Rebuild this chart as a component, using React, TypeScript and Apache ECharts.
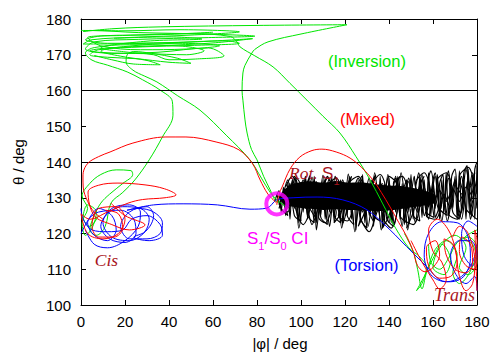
import React, { useEffect, useRef } from "react";
import * as echarts from "echarts";

// Trajectory points are stored flat: x0, y0, x1, y1, ...  (|phi| deg, theta deg)

// Rotation on S1: outline of the densely covered core of the band
const rotCore = [
  90,130, 92,132, 95,133.6, 99,134.3, 104,134.6, 110,134.2, 116,134.7, 122,134.2, 128,134.3, 134,133.8,
  140,133.4, 146,133.2, 152,132.6, 157,131.8, 161,130.8,
  161,128.6, 157,128, 152,127.5, 146,126.9, 140,126.4, 134,126.2, 128,126.4, 122,126.6, 116,126.8,
  110,126.6, 104,126.9, 99,127.2, 95,127.6, 92,128.4,
];

// Rotation on S1: individual looping paths along the band
const blackRot1 = [
  88,129, 90,132, 91,126, 92,133, 93,125, 94,134, 95,124, 96,135, 97,127, 98,134, 99,123, 100,133,
  101,126, 102,135.5, 103,124, 104,134, 105,127, 106,136, 107,123, 108,132, 109,125, 110,135, 111,124,
  112,133, 113,126, 114,136, 115,123.5, 116,134, 117,127, 118,135, 119,122.5, 120,133, 121,125, 122,136,
  123,124, 124,134, 125,121, 126,135, 127,126, 128,136.5, 129,123, 130,133, 131,125, 132,135, 133,122,
  134,134, 135,126, 136,136, 137,121.5, 138,134, 139,125, 140,135.5, 141,123, 142,133, 143,126, 144,136,
  145,124, 146,134, 147,122.5, 148,135, 149,126, 150,136.5, 151,124, 152,133, 153,127, 154,136, 155,124.5,
  156,135, 157,126, 158,137, 159,125, 160,134, 161,127, 162,136.5, 163,124, 164,135, 165,126, 166,137,
  167,125, 168,134, 169,127, 170,136, 171,124, 172,137.5, 173,126, 174,135, 175,124, 176,138, 177,126,
  178,136, 179,124, 180,139,
];
const blackRot2 = [
  180,131, 178,137, 176.5,129, 178,125, 175,127, 173,136, 171,128, 172,124, 169,126, 167,135.5, 165.5,129,
  166.5,125, 163,127, 161,136, 159.5,130, 160.5,124.5, 157,126, 155,135, 153,129, 154,123.5, 151,125,
  149,134.5, 147,130, 148,123, 145,125, 143,135.5, 141,129, 142,122, 139,124, 137,134, 135,131, 136,123.5,
  133,125, 131,135.5, 129,128, 130,121.5, 127,124, 125,134, 123,130, 124,122.5, 121,125, 119,135, 117,129,
  118,123, 115,125, 113,135.5, 111,129.5, 112,122.5, 109,124.5, 107,134.5, 105,130, 106,123, 103,125,
  101,135, 99,129, 100,123.5, 97,125, 95,134, 93,128, 94,125, 91,127, 89,131,
];
const blackRot3 = [
  90,127, 92,130, 94,127.5, 95,132, 97,136, 99,131, 98,126, 101,122.5, 104,127, 103,132, 106,134.5,
  109,129, 108,124.5, 111,123, 114,128, 112,133, 116,135.5, 119,130, 117,125, 121,123.5, 124,129, 122,134,
  126,136, 129,131, 127,125, 131,120.5, 134,127, 132,133, 136,136.5, 139,131, 137,125, 141,121.5, 144,128,
  142,134, 146,136, 149,130, 147,124, 151,122.5, 154,128, 152,134, 156,137, 159,131, 157,125, 161,124,
  164,129, 162,135, 166,137, 169,131, 167,125.5, 171,124, 174,130, 172,136, 176,138.5, 179,132, 177,126,
  180,124,
];
const blackRot4 = [
  179,137, 177,133, 175,138, 173,131, 170,133.5, 168,127, 165,131, 163,126, 160,132, 158,127.5, 156,133,
  153,126, 150,131, 148,126.5, 146,132.5, 143,127, 140,132, 138,126, 135,133, 132,127, 130,132, 128,126,
  125,133, 122,127.5, 120,132, 118,126, 115,133, 112,127, 110,132, 108,126.5, 105,133, 102,127, 100,131.5,
  98,126, 96,132, 94,127, 92,130.5, 90,128,
];
const blackRot5 = [
  95,129, 97,131.5, 99,128, 101,130.5, 103,127.5, 106,131, 108,128, 110,131.5, 113,128.5, 116,132, 118,128,
  121,131, 124,127.5, 127,131.5, 130,128, 133,132, 136,128, 139,131.5, 142,128.5, 145,132, 148,128, 151,131,
  154,127.5, 157,131.5, 160,128.5, 163,132, 166,129, 169,132.5, 172,129, 175,133, 178,130,
];
const blackRot6 = [
  150,130, 151.5,136, 152,133, 153.5,137, 155,131, 156,125, 157.5,128, 158,135.5, 159,137.5, 160.5,132,
  161,124.5, 162.5,127, 163,134, 164.5,136.5, 165,130, 166.5,123.5, 168,128, 168.5,136, 170,138, 171,131,
  172,125, 173.5,129, 174,137, 175.5,139, 176,132, 177,124, 178.5,130, 179,138, 180,140,
];
const blackRot7 = [
  92,131, 94,135, 95.5,131, 97,135.5, 98,129, 99,121.5, 100.5,127, 102,136, 103,131, 105,135.8, 106.5,126,
  107,121, 108.5,129, 110,136.3, 111.5,130, 113,122, 114,127, 115.5,136, 117,132, 118.5,121.5, 120,128,
  121.5,136.6, 123,129, 124.5,120.5, 126,127, 127.5,136, 129,131, 130.5,122, 132,128, 133.5,137, 135,130,
  136.5,121, 138,128, 139.5,136.5, 141,130, 142.5,122.5, 144,128, 145.5,137, 147,131, 148.5,121, 150,127,
];
const blackRot8 = [
  180,127, 178.5,133, 177,129, 176,135.5, 174.5,130, 173,124, 171.5,128, 170,135, 168.5,132, 167,137.5,
  165.5,131, 164,123.5, 162.5,129, 161,137, 159.5,133, 158,124, 156.5,129, 155,136.5, 153.5,131, 152,123,
  150.5,128, 149,135.5, 147.5,132, 146,122, 144.5,128, 143,136, 141.5,131, 140,123, 138.5,127,
];
const blackRot9 = [
  93,133, 96,136, 98,134, 96.5,131, 99,129, 102,133, 104,136.2, 103,133, 101,130.5, 104,127, 107,124,
  106,126.5, 109,132, 112,135.8, 110,133.5, 113,130, 116,126, 115,123, 118,125.5, 121,132, 123,136,
  121.5,134, 125,131, 127,124.5, 126,122, 129,126, 132,133, 134,136.4, 132.5,134.5, 136,130, 138,124,
  137,121.5, 140,125, 143,133, 145,136, 143.5,134, 147,129, 149,123.5, 148,121.5, 151,126, 154,133.5,
  156,136, 154.5,134, 158,128,
];
const blackRot10 = [
  148,135, 145,131, 143,134.5, 140,136, 138,131, 135,127, 133,123.5, 131,126, 128,132, 126,135.5,
  124,132.5, 121,127, 119,123, 117,126.5, 114,133, 112,136, 110,131.5, 107,125.5, 105,122.5, 103,127,
  100,133.5, 98,135.5, 96,130, 94,126, 92,128.5,
];

// Inversion trajectories (green)
const greenInv1 = [
  8,125, 4,122, 1,124.5, 3,128, 7,126, 5,121.5, 2,119.5, 0.5,123, 3,127, 0.5,130.5, 4,134, 9,136.5,
  16,137.8, 22.7,137.6, 23.5,136.5, 19,134, 13,131, 9,128.5, 6,125, 4,121, 7,119.5, 11,122, 13.6,128.5,
  19,131.5, 24.5,135, 31,140.6, 37,147, 41.8,153.1, 41.5,157, 36,160.1, 28,163, 21,165.2, 12,167.1,
  5,168.5, 2,170.5, 6,172, 22,172.8, 46,172.4, 56,171.1, 48,170, 30,170.3, 10,170.6, 2,171.6, 6,173.6,
  26,174.3, 58,174.8, 79,175.2, 56,175.8, 26,176.2, 4,176.8, 1,176.5, 15,177.3, 36,177.8, 80,178.2,
  120.9,178.4, 100,175.8, 85,173.6, 79,171.5, 77.7,170.5, 74.5,167, 73.6,164.9, 73.2,160, 73.6,157.3,
  74.5,152, 75.5,148.1, 77.5,143.5, 80,140.6, 83,136, 86,132.2, 88,129.5, 90,128.5,
];
const greenInv2 = [
  60,176.3, 35,175.6, 10,175.3, 2,174.2, 12,173.2, 40,173.4, 66,173.9, 72,173.2, 50,172.6, 28,172.2,
  8,171.4, 4,170, 12,169.3, 25,168.9, 40,167.9, 50,167.6, 44,169, 32,170.4, 24,170.9, 21,170, 20.5,168,
  23.6,165.7, 29,164, 34.5,162.4, 44,158.5, 54.1,154.5, 66,147.5, 76.8,140.6, 82,135.5, 86,131.5,
  89,129.5, 93,127.5,
];
const greenInv3 = [
  6,169.8, 14,168.6, 24,167.4, 36,167.2, 30,168.4, 18,169.6, 9,171, 20,172.3, 45,173.2, 63,172.5,
  48,171.6, 27,171.4, 9,172.5, 3,174.8, 20,175.4, 50,175.9, 68,175.1, 70.9,173.6, 72.3,172.2, 79,169.7,
  87.3,166.6, 95,162, 102.7,157.3, 110,152.8, 117.7,148.1, 125,141.5, 131.4,135, 137,128.5, 143,121.5,
  149,116, 154.1,113.4, 157,110.5, 155,106, 152.5,104, 156,108, 160,113, 164,117, 168,112.5, 165,108.5,
  160,110.5, 163,116, 170,119.5, 175,116, 172,110.5, 176,108.5, 180,112, 178,117, 174,118.5, 180,121,
];
const greenTop = [
  0,176.8, 20,176.7, 45,177, 72,176.4, 50,175.5, 25,174.9, 5,174.2, 1,173, 22,173.1, 52,173.6, 78,174.5,
  60,173.3, 35,172.5, 12,171.9, 4,171.1, 14,170.4, 35,170.7, 58,171.9, 65,169.7, 52,168.8, 40,168.6,
  33,170, 20,170.8, 9,171.9, 30,173.8, 55,174.4, 40,175, 15,174.6,
];
const greenTrans = [
  147,120, 151,115, 153,110, 155,104.5, 157,109, 161,115.5, 166,118, 171,114, 169,109, 172,106, 177,109.5,
  180,116, 176,119, 171,117.5, 167,113, 163,110, 159,112, 158,117,
];

// Mixed trajectories (red)
const redMix1 = [
  10,124, 6,126, 3,129, 1,133, 0.9,135.8, 1,137, 3.2,139.7, 8,141.5, 13.2,142.8, 23.6,145.3, 38.6,147,
  47.7,147, 61.4,145.6, 71.8,143.4, 78,139.5, 81.4,135, 85,131, 89,128.5,
];
const redMix2 = [
  13.6,128.5, 20,125, 29.1,122.4, 22,121, 14,122.5, 6,125, 3.2,131.6, 8,133.5, 16.8,134.1, 29.1,133.6,
  38,132.5, 43.2,130.8, 38.2,130, 28,129.5, 21.4,128.5, 12,126, 4,124, 0,125.5, 3,120, 10,118.5, 17,120,
  20,124, 16,127.5, 8,127, 5,122, 8,119, 15,119, 19,121.5, 17,125.5, 11,126.5,
];
const redMix3 = [
  89,128, 90,131, 91.4,133, 95,138, 99.5,141.4, 105,143.2, 109.5,143.6, 116,142.8, 122.3,141.1,
  127.5,138.5, 132.7,135, 136.5,131.5, 140.5,127.4, 144.5,123, 148.2,119, 151,115, 153,111, 156.4,109.3,
  160,110.5, 163,114, 161,118, 157,116, 158,111, 163,107.5, 168,108, 171,112, 169,117, 165,118.5, 166,114,
  170,110, 175,109, 178,112, 177,117, 173,119, 172,115, 175,111, 179,110, 180,114, 180,118, 179,121,
  180,104,
];
const redTrans = [
  150,118, 155,112, 160,107, 163,104.5, 166,107, 164,112, 160,115, 158,121, 162,124, 167,121, 170,116,
  172,108, 175,104, 178,106, 179,112, 176,120, 172,122, 169,119,
];

// Torsion trajectories (blue)
const blueTor1 = [
  2,121, 6,117, 12,116, 20,118, 26,122, 27,126, 22,128, 14,127, 10,123, 14,119, 22,118, 30,121, 33,125,
  30,127.5, 22,126, 18,122, 22,118.5, 30,118.5, 36,120, 37,123, 33,126, 26,127, 20.9,126.5, 33,128,
  46.4,128.3, 62,128, 76.8,126.8, 84.5,127.1, 89,129.4, 96.4,130, 107.3,130.2, 119,129.4, 130,126.6,
  140.5,121, 145,118.2, 151,114.5, 157.3,110.6, 163.2,107, 168,106.5, 174,108, 177,113, 176,119, 171,123,
  164,123.3, 158,120, 156,114, 159,108.5, 166,106.5, 173,108, 178,112, 180,117,
];
const blueCis = [
  0,120, 4,124.5, 8,127, 14,125, 16,121, 12,118, 6,119.5, 3,123, 8,126, 18,126.5, 24,124, 25,120, 20,117.5,
  13,118.5, 9,122, 12,125.5, 19,127.5, 27,127, 31,124, 29,120.5, 24,119, 31,118, 37,119.5, 36,122.5,
  30,125, 23,124, 19,121, 12,120.5, 5,121, 1,124, 0,127,
];
const blueTrans = [
  180,122, 176,123.5, 173,120, 174,114, 178,111, 180,114, 177,118, 172,118, 168,114, 170,109, 175,106,
  179,108, 180,104,
];

// S1/S0 conical intersection
const ciPoint = [89, 128.3];
// Region boundaries
const boundaries = [140, 160];

const GREEN = "#00e600";
const RED = "#ff0000";
const BLUE = "#0000ff";
const MAGENTA = "#ff00ff";
const DARK_RED = "#a8141c";
const SANS = '"Liberation Sans", Arial, sans-serif';
const SERIF = '"Liberation Serif", "Times New Roman", serif';

const pairs = (flat: number[]) => {
  const out: number[][] = [];
  for (let i = 0; i + 1 < flat.length; i += 2) out.push([flat[i], flat[i + 1]]);
  return out;
};

const traj = (flat: number[], color: string, smooth: number, z: number, width = 1) => ({
  type: "line",
  data: pairs(flat),
  showSymbol: false,
  symbol: "none",
  smooth,
  silent: true,
  z,
  lineStyle: { color, width },
  itemStyle: { color },
});

const corePts = pairs(rotCore);

const xAxisBase = {
  type: "value",
  min: 0,
  max: 180,
  interval: 20,
  splitLine: { show: false },
  axisLine: { show: true, onZero: false, lineStyle: { color: "#000", width: 1 } },
  axisTick: { show: true, inside: true, length: 5, lineStyle: { color: "#000" } },
};
const yAxisBase = {
  type: "value",
  min: 100,
  max: 180,
  interval: 10,
  splitLine: { show: false },
  axisLine: { show: true, onZero: false, lineStyle: { color: "#000", width: 1 } },
  axisTick: { show: true, inside: true, length: 5, lineStyle: { color: "#000" } },
};

const blackPaths = [
  blackRot1, blackRot2, blackRot3, blackRot4, blackRot5,
  blackRot6, blackRot7, blackRot8, blackRot9, blackRot10,
];

const option = {
  animation: false,
  backgroundColor: "#fff",
  grid: { left: 81, right: 16, top: 19, bottom: 47 },
  xAxis: [
    {
      ...xAxisBase,
      position: "bottom",
      axisLabel: { color: "#000", fontSize: 15, fontFamily: SANS, margin: 9 },
    },
    { ...xAxisBase, position: "top", axisLabel: { show: false } },
  ],
  yAxis: [
    {
      ...yAxisBase,
      position: "left",
      name: "θ / deg",
      nameLocation: "middle",
      nameRotate: 90,
      nameGap: 55,
      nameTextStyle: { color: "#000", fontSize: 15, fontFamily: SANS },
      axisLabel: { color: "#000", fontSize: 15, fontFamily: SANS, margin: 10 },
    },
    { ...yAxisBase, position: "right", axisLabel: { show: false } },
  ],
  series: [
    {
      type: "custom",
      coordinateSystem: "cartesian2d",
      data: [corePts[0]],
      silent: true,
      clip: true,
      z: 1,
      renderItem: (_params: any, api: any) => ({
        type: "polygon",
        shape: { points: corePts.map((p) => api.coord(p)), smooth: 0.2 },
        style: { fill: "#000" },
      }),
      markLine: {
        silent: true,
        symbol: "none",
        label: { show: false },
        lineStyle: { color: "#000", type: "solid", width: 1 },
        data: boundaries.map((v) => ({ yAxis: v })),
      },
    },
    ...blackPaths.map((p) => traj(p, "#000", 0.3, 2, 1.15)),
    traj(greenTop, GREEN, 0.35, 3),
    traj(greenInv1, GREEN, 0.35, 3),
    traj(greenInv2, GREEN, 0.35, 3),
    traj(greenInv3, GREEN, 0.35, 3),
    traj(greenTrans, GREEN, 0.35, 3),
    traj(blueCis, BLUE, 0.35, 4),
    traj(blueTor1, BLUE, 0.35, 4),
    traj(blueTrans, BLUE, 0.35, 4),
    traj(redMix1, RED, 0.35, 5),
    traj(redMix2, RED, 0.35, 5),
    traj(redMix3, RED, 0.35, 5),
    traj(redTrans, RED, 0.35, 5),
    {
      type: "scatter",
      data: [ciPoint],
      symbol: "circle",
      symbolSize: 21,
      silent: true,
      z: 10,
      itemStyle: { color: "rgba(0,0,0,0)", borderColor: MAGENTA, borderWidth: 4 },
    },
  ],
  graphic: [
    {
      type: "text",
      x: 367,
      y: 61,
      style: { text: "(Inversion)", fill: GREEN, font: `16.5px ${SANS}`, textAlign: "center", textVerticalAlign: "middle" },
    },
    {
      type: "text",
      x: 367.5,
      y: 119,
      style: { text: "(Mixed)", fill: RED, font: `16.5px ${SANS}`, textAlign: "center", textVerticalAlign: "middle" },
    },
    {
      type: "text",
      x: 366.5,
      y: 265,
      style: { text: "(Torsion)", fill: BLUE, font: `16.5px ${SANS}`, textAlign: "center", textVerticalAlign: "middle" },
    },
    {
      type: "text",
      x: 106.5,
      y: 260,
      style: { text: "Cis", fill: DARK_RED, font: `italic 17.5px ${SERIF}`, textAlign: "center", textVerticalAlign: "middle" },
    },
    {
      type: "text",
      x: 454.5,
      y: 295,
      style: { text: "Trans", fill: DARK_RED, font: `italic 18px ${SERIF}`, textAlign: "center", textVerticalAlign: "middle" },
    },
    {
      type: "text",
      x: 289,
      y: 172,
      z: 20,
      style: {
        text: "{r|Rot. }{s|S}{b|1}",
        textAlign: "left",
        textVerticalAlign: "middle",
        rich: {
          r: { fontSize: 17.5, fontFamily: SERIF, fontStyle: "italic", fill: DARK_RED, lineHeight: 20, verticalAlign: "bottom" },
          s: { fontSize: 17, fontFamily: SANS, fill: DARK_RED, lineHeight: 20, verticalAlign: "bottom" },
          b: { fontSize: 11, fontFamily: SANS, fill: DARK_RED, lineHeight: 12, verticalAlign: "bottom", padding: [0, 0, -4, 0] },
        },
      },
    },
    {
      type: "text",
      x: 247,
      y: 237,
      style: {
        text: "{a|S}{b|1}{a|/S}{b|0}{a| CI}",
        textAlign: "left",
        textVerticalAlign: "middle",
        rich: {
          a: { fontSize: 17, fontFamily: SANS, fill: MAGENTA, lineHeight: 20, verticalAlign: "bottom" },
          b: { fontSize: 11, fontFamily: SANS, fill: MAGENTA, lineHeight: 12, verticalAlign: "bottom", padding: [0, 0, -4, 0] },
        },
      },
    },
    {
      type: "text",
      x: 280,
      y: 343,
      style: { text: "|φ| / deg", fill: "#000", font: `15px ${SANS}`, textAlign: "center", textVerticalAlign: "middle" },
    },
  ],
};

export default function App() {
  const ref = useRef<HTMLDivElement>(null);
  useEffect(() => {
    if (!ref.current) return;
    const chart = echarts.init(ref.current, null, { renderer: "svg" });
    chart.setOption(option as any);
    return () => chart.dispose();
  }, []);
  return (
    <div
      ref={ref}
      style={{ position: "fixed", left: 0, top: 0, width: 493, height: 352, background: "#fff" }}
    />
  );
}
